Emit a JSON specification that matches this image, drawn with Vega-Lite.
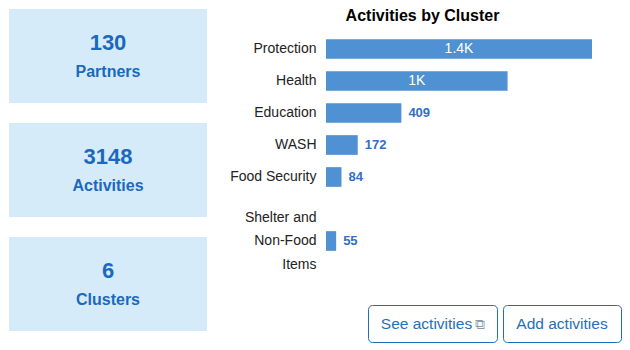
{
  "$schema": "https://vega.github.io/schema/vega-lite/v6.json",
  "padding": {"left": 9, "top": 8, "right": 0, "bottom": 0},
  "background": "white",
  "config": {"font": "Liberation Sans", "view": {"stroke": null}},
  "datasets": {
    "kpis": [
      {"metric": "Partners", "value": 130},
      {"metric": "Activities", "value": 3148},
      {"metric": "Clusters", "value": 6}
    ],
    "heading": [
      {"title": "Activities by Cluster"}
    ],
    "clusters": [
      {"cluster": "Protection", "activities": 1443},
      {"cluster": "Health", "activities": 985},
      {"cluster": "Education", "activities": 409},
      {"cluster": "WASH", "activities": 172},
      {"cluster": "Food Security", "activities": 84},
      {"cluster": "Shelter and Non-Food Items", "activities": 55}
    ],
    "buttons": [
      {"button": "See activities"},
      {"button": "Add activities"}
    ]
  },
  "spacing": 22,
  "hconcat": [
    {
      "data": {"name": "kpis"},
      "spacing": 20,
      "facet": {"row": {"field": "metric", "type": "nominal", "sort": ["Partners", "Activities", "Clusters"], "header": null}},
      "spec": {
        "width": 198,
        "height": 94,
        "view": {"fill": "#d6ebf9", "stroke": null},
        "layer": [
          {
            "mark": {"type": "text", "fontSize": 22, "fontWeight": "bold", "color": "#1a69bd", "dy": -13.5, "baseline": "middle"},
            "encoding": {"text": {"field": "value", "type": "quantitative", "format": "d"}}
          },
          {
            "mark": {"type": "text", "fontSize": 16, "fontWeight": "bold", "color": "#1a69bd", "dy": 16, "baseline": "middle"},
            "encoding": {"text": {"field": "metric", "type": "nominal"}}
          }
        ]
      }
    },
    {
      "spacing": 33,
      "vconcat": [
        {
          "spacing": 9,
          "vconcat": [
            {
              "data": {"name": "heading"},
              "width": 266,
              "height": 14,
              "mark": {"type": "text", "fontSize": 16, "fontWeight": "bold", "color": "#000000", "baseline": "middle", "align": "center", "dx": -36.5},
              "encoding": {"text": {"field": "title", "type": "nominal"}}
            },
            {
              "data": {"name": "clusters"},
              "width": 266,
              "height": 224,
              "transform": [
                {"calculate": "datum.activities >= 950 ? format(datum.activities / 1000, '.1~f') + 'K' : format(datum.activities, 'd')", "as": "label"},
                {"calculate": "datum.activities / 2", "as": "mid"}
              ],
              "encoding": {
                "y": {
                  "field": "cluster", "type": "nominal",
                  "scale": {"domain": ["Protection", "Health", "Education", "WASH", "Food Security", " ", "Shelter and Non-Food Items"], "paddingInner": 0.385, "paddingOuter": 0.1925},
                  "axis": {"title": null, "ticks": false, "domain": false, "labelPadding": 10, "labelFontSize": 14, "labelColor": "#222222", "labelLineHeight": 23.5,
                           "labelOffset": {"condition": {"test": "datum.value == 'Shelter and Non-Food Items'", "value": -23.5}, "value": 0},
                           "labelExpr": "datum.value == 'Shelter and Non-Food Items' ? ['Shelter and', 'Non-Food', 'Items'] : datum.label"}
                }
              },
              "layer": [
                {
                  "mark": {"type": "bar", "color": "#4f91d2"},
                  "encoding": {"x": {"field": "activities", "type": "quantitative", "scale": {"domain": [0, 1443], "nice": false}, "axis": null}}
                },
                {
                  "transform": [{"filter": "datum.activities >= 950"}],
                  "mark": {"type": "text", "color": "white", "fontSize": 14, "align": "center", "baseline": "middle"},
                  "encoding": {"x": {"field": "mid", "type": "quantitative"}, "text": {"field": "label"}}
                },
                {
                  "transform": [{"filter": "datum.activities < 950"}],
                  "mark": {"type": "text", "color": "#2f6fc6", "fontSize": 13, "fontWeight": "bold", "align": "left", "baseline": "middle", "dx": 7},
                  "encoding": {"x": {"field": "activities", "type": "quantitative"}, "text": {"field": "label"}}
                }
              ]
            }
          ]
        },
        {
          "data": {"name": "buttons"},
          "spacing": 4,
          "hconcat": [
            {
              "width": 37, "height": 37,
              "mark": {"type": "text"},
              "encoding": {"text": {"value": ""}}
            },
            {
              "width": 129, "height": 37,
              "view": {"stroke": "#1f6fb9", "strokeWidth": 1, "cornerRadius": 4, "fill": "white"},
              "transform": [{"filter": "datum.button == 'See activities'"}],
              "layer": [
                {"mark": {"type": "text", "fontSize": 15.5, "color": "#1f6fb9", "dx": -6, "baseline": "middle"}, "encoding": {"text": {"field": "button"}}},
                {"mark": {"type": "text", "fontSize": 14, "color": "#8a9bb0", "dx": 47, "dy": 1, "baseline": "middle"}, "encoding": {"text": {"value": "⧉"}}}
              ]
            },
            {
              "width": 118, "height": 37,
              "view": {"stroke": "#1f6fb9", "strokeWidth": 1, "cornerRadius": 4, "fill": "white"},
              "transform": [{"filter": "datum.button == 'Add activities'"}],
              "mark": {"type": "text", "fontSize": 15.5, "color": "#1f6fb9", "baseline": "middle"},
              "encoding": {"text": {"field": "button"}}
            }
          ]
        }
      ]
    }
  ]
}
